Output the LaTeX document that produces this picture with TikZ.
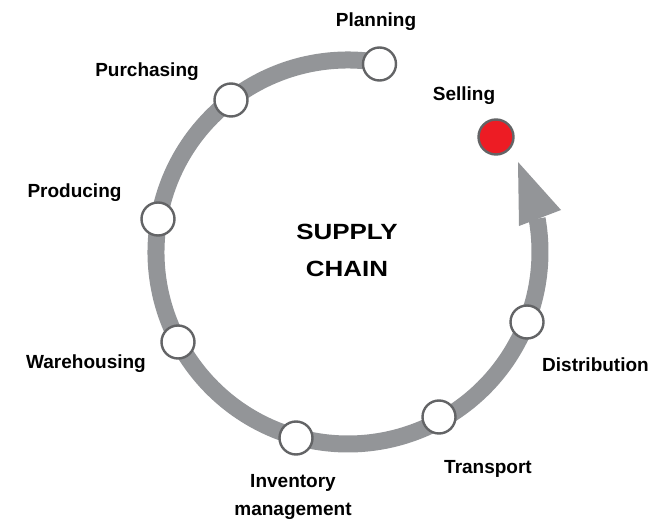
\documentclass[tikz,border=0pt]{standalone}
\usepackage{fontspec}
\setmainfont{Liberation Sans}
\usepackage{graphicx}
\definecolor{ringgray}{HTML}{939598}
\definecolor{nodegray}{HTML}{636466}
\definecolor{sellred}{HTML}{ED1C24}
\begin{document}
\begin{tikzpicture}[x=1pt,y=1pt,
  ring/.style={draw=ringgray, line width=17pt},
  stage/.style={circle, draw=nodegray, line width=2.4pt, fill=white, minimum size=33pt, inner sep=0pt},
  redstage/.style={stage, fill=sellred, minimum size=35pt},
  lbl/.style={font=\fontsize{19}{22}\selectfont\bfseries, inner sep=0pt, anchor=base},
  title/.style={font=\fontsize{22}{26}\selectfont\bfseries, inner sep=0pt, anchor=base}
]
\useasboundingbox (0,0) rectangle (669,523);
\coordinate (c) at (348,271);
% ring with arrow
\draw[ring] ([shift={(80.5:192)}]c) arc[start angle=80.5, end angle=370, radius=192] coordinate (aend);
\coordinate (tip) at (518,361);
\coordinate (hr) at (561,313);
\coordinate (hl) at (519,297);
\fill[ringgray] (tip) -- (hr) -- (hl) -- cycle;
% stage nodes
\node[stage] (plan) at (379.5,459) {};
\node[stage] (purch) at (231,423) {};
\node[stage] (prod) at (158,304) {};
\node[stage] (ware) at (178,181) {};
\node[stage] (inv) at (296,85) {};
\node[stage] (trans) at (439,106) {};
\node[stage] (dist) at (527,201) {};
\node[redstage] (sell) at (496,386) {};
% labels
\node[lbl] (lplan) at (376,496) {Planning};
\node[lbl] (lsell) at (464,422) {Selling};
\node[lbl] (lpurch) at (147,446) {Purchasing};
\node[lbl] (lprod) at (74.5,325) {Producing};
\node[lbl] (lware) at (86,155) {Warehousing};
\node[lbl] (linv1) at (293,36) {Inventory};
\node[lbl] (linv2) at (293,8) {management};
\node[lbl] (ldist) at (595.5,152) {Distribution};
\node[lbl] (ltrans) at (488,50) {Transport};
\node[title] (t1) at (347,284) {\scalebox{1.18}[1]{SUPPLY}};
\node[title] (t2) at (347,247) {\scalebox{1.18}[1]{CHAIN}};
\end{tikzpicture}
\end{document}
